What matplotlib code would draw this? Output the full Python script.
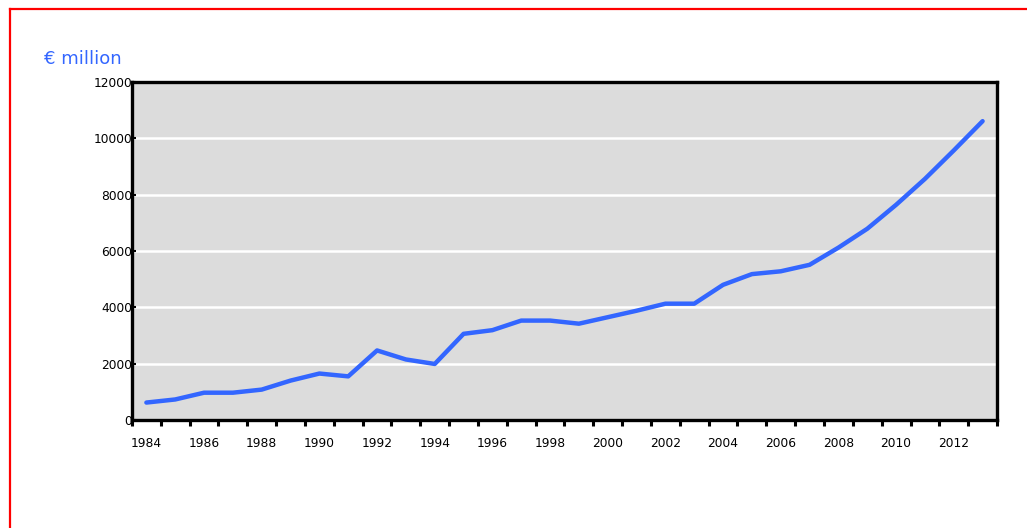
import numpy as np
import matplotlib
matplotlib.use("Agg")
import matplotlib.pyplot as plt
from matplotlib.lines import Line2D

# annual values, € million
years = list(range(1984, 2014))
values = [620, 730, 970, 970, 1080, 1400, 1650, 1550, 2470, 2150,
          1990, 3060, 3190, 3530, 3530, 3420, 3650, 3880, 4130, 4130,
          4800, 5180, 5280, 5510, 6120, 6790, 7640, 8560, 9570, 10610]
label_years = list(range(1984, 2013, 2))
y_ticks = [0, 2000, 4000, 6000, 8000, 10000, 12000]

line_color = "#3366ff"

fig = plt.figure(figsize=(10.27, 5.28), dpi=100)
ax = fig.add_axes([0.1285, 0.2045, 0.8423, 0.6402])

ax.set_facecolor("#dcdcdc")
ax.plot(years, values, color=line_color, linewidth=3.2, solid_capstyle="round",
        solid_joinstyle="round", zorder=3)

# axis ranges: one category slot per year
ax.set_xlim(years[0] - 0.5, years[-1] + 0.5)
ax.set_ylim(0, 12000)

# white horizontal gridlines
ax.set_yticks(y_ticks)
ax.yaxis.grid(True, color="white", linewidth=1.8)
ax.set_axisbelow(True)

# x labels at every other year, tick marks on category boundaries
ax.set_xticks(label_years)
ax.set_xticklabels([str(y) for y in label_years], fontsize=8.8)
ax.set_xticks(np.arange(years[0] - 0.5, years[-1] + 1.0, 1.0), minor=True)
ax.tick_params(axis="x", which="major", length=0, pad=12)
ax.tick_params(axis="x", which="minor", length=4, width=2.2, direction="out", color="black")
ax.tick_params(axis="y", length=3, width=1.5, pad=0, labelsize=8.8, direction="in")

for spine in ax.spines.values():
    spine.set_linewidth(2.4)
    spine.set_color("black")

fig.text(0.043, 0.888, "€ million", color=line_color, fontsize=13, ha="left", va="center")

# red frame on left and top edges
fig.add_artist(Line2D([0.0093, 0.0093], [0.0, 0.983], color="red", linewidth=1.6,
                      transform=fig.transFigure))
fig.add_artist(Line2D([0.0093, 1.0], [0.983, 0.983], color="red", linewidth=1.6,
                      transform=fig.transFigure))

fig.savefig("out.png", dpi=100, facecolor="white")
